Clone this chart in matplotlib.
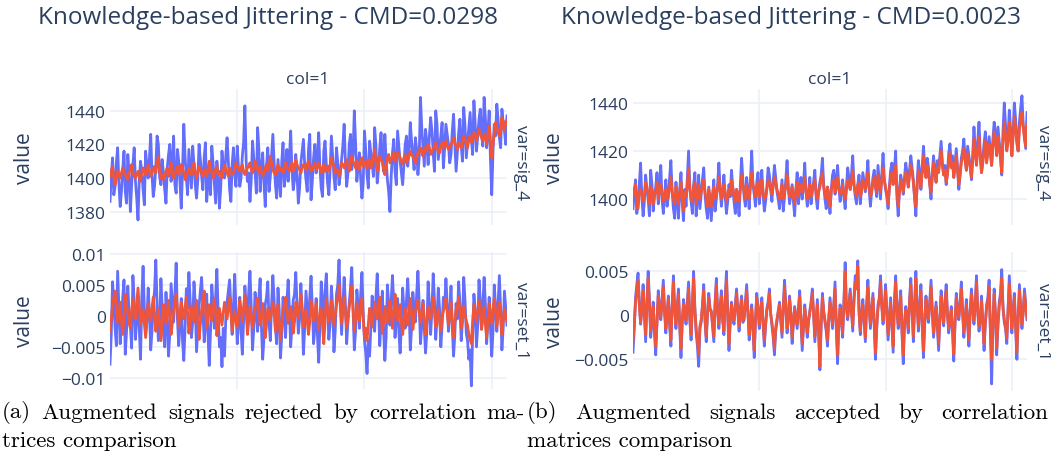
import numpy as np
import matplotlib
matplotlib.use("Agg")
import matplotlib.pyplot as plt

# one value per step of the x axis (0..312)

# left panel, var=sig_4 (rejected)
sig4_rej_aug = [
    1386, 1401, 1412, 1390, 1395, 1409, 1418, 1397, 1383, 1392, 1405, 1416, 1392, 1385, 1414, 1403, 1380, 1396, 1408, 1418, 1398,
    1388, 1375, 1399, 1410, 1404, 1393, 1384, 1416, 1407, 1400, 1412, 1426, 1402, 1389, 1395, 1407, 1425, 1420, 1401, 1396,
    1411, 1403, 1393, 1385, 1406, 1414, 1420, 1398, 1408, 1425, 1396, 1391, 1417, 1410, 1397, 1382, 1404, 1432, 1413, 1400,
    1390, 1417, 1405, 1394, 1419, 1408, 1396, 1388, 1399, 1420, 1411, 1401, 1393, 1412, 1421, 1386, 1397, 1405, 1390, 1419,
    1409, 1397, 1385, 1410, 1401, 1382, 1394, 1416, 1406, 1400, 1413, 1424, 1410, 1393, 1386, 1408, 1418, 1402, 1395, 1419,
    1406, 1395, 1400, 1413, 1421, 1443, 1410, 1398, 1403, 1386, 1399, 1422, 1412, 1404, 1391, 1430, 1417, 1392, 1405, 1415,
    1397, 1383, 1407, 1418, 1392, 1401, 1414, 1426, 1409, 1396, 1388, 1411, 1400, 1389, 1410, 1421, 1395, 1404, 1417, 1398,
    1412, 1428, 1405, 1393, 1399, 1414, 1402, 1385, 1394, 1409, 1416, 1423, 1408, 1399, 1392, 1417, 1426, 1387, 1398, 1412,
    1420, 1403, 1411, 1427, 1406, 1394, 1389, 1416, 1422, 1408, 1397, 1390, 1405, 1425, 1413, 1401, 1393, 1418, 1409, 1396,
    1402, 1411, 1419, 1432, 1410, 1395, 1403, 1420, 1426, 1405, 1414, 1440, 1421, 1398, 1407, 1415, 1400, 1388, 1397, 1428,
    1416, 1402, 1394, 1422, 1415, 1409, 1401, 1430, 1419, 1397, 1405, 1418, 1427, 1412, 1404, 1426, 1411, 1399, 1392, 1380,
    1401, 1415, 1423, 1404, 1396, 1428, 1419, 1410, 1403, 1396, 1408, 1420, 1425, 1407, 1415, 1433, 1422, 1414, 1405, 1424,
    1417, 1402, 1412, 1448, 1430, 1418, 1407, 1429, 1421, 1408, 1425, 1436, 1428, 1415, 1404, 1440, 1432, 1411, 1418, 1425,
    1433, 1406, 1418, 1432, 1426, 1420, 1409, 1414, 1428, 1438, 1420, 1404, 1416, 1427, 1435, 1419, 1410, 1442, 1431, 1412,
    1421, 1430, 1439, 1423, 1414, 1446, 1432, 1416, 1425, 1435, 1441, 1426, 1419, 1448, 1436, 1418, 1428, 1440, 1411, 1390,
    1416, 1432, 1425, 1444, 1435, 1424, 1418, 1441, 1433, 1428, 1420, 1437,
]
sig4_rej_orig = [
    1401, 1404, 1407, 1400, 1396, 1399, 1404, 1402, 1400, 1403, 1406, 1404, 1402, 1400, 1399, 1403, 1405, 1408, 1403, 1401, 1400,
    1402, 1404, 1401, 1398, 1403, 1406, 1404, 1402, 1405, 1408, 1404, 1401, 1403, 1405, 1407, 1403, 1409, 1413, 1404, 1400,
    1402, 1399, 1401, 1404, 1406, 1401, 1404, 1409, 1403, 1400, 1402, 1405, 1407, 1402, 1404, 1408, 1406, 1403, 1399, 1401,
    1403, 1406, 1404, 1402, 1405, 1409, 1404, 1400, 1403, 1407, 1405, 1403, 1401, 1405, 1403, 1401, 1406, 1410, 1406, 1403,
    1400, 1402, 1405, 1407, 1402, 1404, 1403, 1400, 1404, 1408, 1405, 1403, 1401, 1406, 1404, 1402, 1403, 1405, 1409, 1407,
    1405, 1404, 1406, 1408, 1404, 1402, 1404, 1406, 1407, 1409, 1405, 1403, 1406, 1410, 1408, 1405, 1403, 1407, 1404, 1401,
    1403, 1406, 1408, 1404, 1407, 1413, 1409, 1405, 1403, 1402, 1405, 1408, 1404, 1406, 1405, 1403, 1406, 1409, 1407, 1405,
    1404, 1407, 1409, 1404, 1406, 1411, 1408, 1406, 1405, 1403, 1406, 1408, 1407, 1405, 1408, 1410, 1406, 1404, 1405, 1407,
    1409, 1405, 1406, 1409, 1407, 1403, 1405, 1408, 1404, 1406, 1407, 1404, 1408, 1412, 1409, 1407, 1403, 1405, 1404, 1401,
    1405, 1409, 1408, 1406, 1408, 1411, 1407, 1404, 1409, 1413, 1410, 1408, 1406, 1410, 1408, 1405, 1409, 1412, 1407, 1409,
    1410, 1406, 1409, 1411, 1406, 1408, 1412, 1417, 1409, 1404, 1408, 1413, 1411, 1410, 1405, 1402, 1408, 1412, 1414, 1409,
    1411, 1413, 1415, 1410, 1412, 1415, 1414, 1412, 1410, 1408, 1412, 1414, 1409, 1411, 1413, 1416, 1414, 1413, 1411, 1409,
    1412, 1415, 1416, 1418, 1415, 1413, 1418, 1416, 1417, 1420, 1418, 1414, 1416, 1417, 1419, 1421, 1418, 1416, 1415, 1419,
    1421, 1418, 1420, 1422, 1419, 1417, 1419, 1420, 1422, 1424, 1421, 1419, 1417, 1421, 1420, 1418, 1422, 1425, 1423, 1420,
    1418, 1423, 1425, 1421, 1424, 1427, 1425, 1422, 1426, 1429, 1426, 1424, 1422, 1426, 1424, 1420, 1427, 1431, 1422, 1412,
    1420, 1427, 1433, 1430, 1427, 1425, 1431, 1436, 1430, 1428, 1434, 1432,
]

# left panel, var=set_1 (rejected), units of 1e-4
set1_rej_aug = [
    -78, -30, 55, 20, -20, -48, 72, 15, -45, -10, 30, 58, -62, -25, 48, 5, -15, -52, 65, 22, -38,
    -5, 25, -20, -70, 30, 80, 12, -30, -8, 45, 5, -55, -25, 20, 40, 90, 18, -40, -12, 60,
    15, -25, -50, 38, -10, -65, -28, 52, 20, -10, 35, 85, -5, -48, -15, 28, -40, -72, -20, 44,
    12, 70, 25, -35, -10, 55, 20, -58, -22, 15, 40, 62, 10, -42, -15, 35, -30, -80, -25, 50,
    18, -20, 30, 75, 5, -50, -35, -82, -20, -65, -5, 22, 40, 58, 12, -30, 15, 67, 10, -45,
    -10, 30, -25, -62, -5, 48, 20, -15, 38, 72, 15, -55, -20, 38, 5, -25, 30, 60, -18, -70,
    -35, 18, 30, 55, -10, -40, 20, 65, 25, -20, -45, 45, 10, -68, -30, 30, 5, -35, 22, 58,
    10, -50, -15, 25, 35, 70, 18, -28, -5, 52, 8, -62, -20, 40, 12, -18, 30, 64, 15, -45,
    -20, 28, -30, -75, -15, 55, 20, -10, 40, 68, 10, -38, -12, 48, 15, -58, -25, 35, 50, 90,
    25, -30, 15, 62, 20, -45, -10, 20, 45, 78, 10, -55, -25, 42, 18, -20, 35, 70, 5, -40,
    -60, -93, -40, -65, -20, 32, 5, -25, 30, 68, 15, -48, -10, 40, -20, -72, -35, 50, 20, -15,
    25, 65, 20, -35, -5, 28, -25, -60, -15, 45, 10, -20, 25, 60, 15, -55, -20, 38, 12, -10,
    35, 72, 20, -45, -15, 25, -20, -60, -25, 55, 18, -30, 10, 68, 25, -38, -5, 45, 10, -50,
    -15, 30, 15, 60, 20, -25, 5, 48, -20, -65, -30, 20, -5, 55, 20, -40, -10, 62, 25, -28,
    -40, -70, -55, -113, -30, 35, 10, -50, -15, 58, 25, -20, 15, 62, 20, -45, -10, 30, -20, -65,
    -25, 50, 15, -25, 20, 65, 10, -55, -20, 40, 12, -15,
]
set1_rej_orig = [
    -25, -5, 15, 30, 40, 12, -10, 5, 22, -8, -30, -5, 35, 18, 5, -12, -20, 8, 28, 10, -5,
    20, 45, 15, -15, -5, 10, -12, -35, -8, 20, 5, -8, 12, 30, 5, -25, -10, 12, -15, -40,
    -10, 18, 5, -12, 8, 25, -5, -30, -12, 8, 20, 35, 10, -18, 2, 22, 8, -5, 12, 30,
    5, -28, -8, 15, 2, -10, 10, 25, -10, -38, -15, 10, 22, 40, 12, -20, -5, 18, 5, -8,
    10, 28, 5, -32, -12, 12, -2, -15, 5, 22, 8, -5, 12, 30, 8, -25, -10, 8, -5, -18,
    2, 25, 10, -10, 12, 35, 8, -30, -10, 15, 0, -20, -5, 10, 18, 28, 5, -15, 2, 20,
    -10, -35, -15, 12, 2, -8, 8, 22, 5, -25, -8, 18, -12, -40, -15, 8, 18, 30, 10, -12,
    2, 15, -5, -28, -10, 22, 8, -5, 15, 35, 12, -18, -5, 10, -8, -30, -10, 25, 8, -8,
    5, 20, 2, -22, -5, 12, -15, -45, -10, 28, 10, -10, 8, 25, 5, -15, 2, 18, 30, 50,
    15, -12, 8, 30, 5, -20, -5, 15, 28, 48, 10, -25, -5, 20, 5, -8, 12, 28, -5, -35,
    -20, -40, -15, 12, -2, -18, 2, 22, 8, -5, 12, 30, 5, -28, -10, 15, 2, -10, 8, 25,
    5, -20, 8, 35, 12, -8, 5, 18, -10, -30, -8, 12, -2, -15, 8, 28, 5, -22, -5, 10,
    12, 25, 5, -12, 5, 20, -8, -30, -10, 15, 2, -5, 12, 30, 8, -18, -2, 12, -8, -25,
    -5, 8, 15, 28, 5, -15, 2, 22, -12, -35, -10, 10, 15, 30, 5, -20, -5, 15, 2, -8,
    -15, -30, -38, -45, -10, 18, 2, -10, 8, 25, 5, -22, -5, 15, -12, -35, -8, 20, 5, -12,
    10, 28, 8, -18, 2, 22, -5, -30, -8, 12, 2, -8,
]

# right panel, var=sig_4 (accepted)
sig4_acc_aug = [
    1396, 1403, 1408, 1394, 1398, 1406, 1415, 1401, 1393, 1399, 1410, 1404, 1400, 1393, 1412, 1406, 1395, 1401, 1405, 1411, 1398,
    1405, 1414, 1400, 1394, 1402, 1408, 1397, 1401, 1409, 1416, 1403, 1396, 1392, 1407, 1400, 1392, 1404, 1411, 1398, 1391,
    1404, 1397, 1409, 1420, 1405, 1399, 1394, 1406, 1411, 1393, 1400, 1410, 1396, 1402, 1408, 1413, 1402, 1396, 1392, 1405,
    1398, 1391, 1401, 1408, 1395, 1400, 1406, 1415, 1404, 1397, 1403, 1410, 1401, 1394, 1399, 1406, 1401, 1412, 1405, 1399,
    1394, 1404, 1400, 1393, 1406, 1417, 1408, 1401, 1397, 1409, 1403, 1396, 1408, 1420, 1406, 1402, 1397, 1407, 1411, 1398,
    1404, 1412, 1402, 1395, 1399, 1405, 1413, 1410, 1404, 1399, 1407, 1414, 1409, 1403, 1400, 1396, 1402, 1408, 1395, 1401,
    1408, 1416, 1405, 1398, 1402, 1406, 1399, 1393, 1404, 1411, 1398, 1404, 1409, 1400, 1406, 1415, 1403, 1397, 1402, 1409,
    1398, 1403, 1407, 1412, 1401, 1396, 1403, 1407, 1410, 1417, 1406, 1400, 1396, 1405, 1401, 1394, 1404, 1410, 1412, 1402,
    1407, 1414, 1405, 1399, 1403, 1408, 1401, 1396, 1405, 1413, 1409, 1404, 1410, 1418, 1406, 1401, 1398, 1406, 1410, 1398,
    1404, 1411, 1407, 1403, 1409, 1416, 1404, 1397, 1403, 1409, 1412, 1405, 1401, 1414, 1407, 1400, 1410, 1419, 1408, 1404,
    1401, 1396, 1405, 1412, 1415, 1407, 1412, 1420, 1401, 1393, 1404, 1410, 1407, 1402, 1409, 1415, 1411, 1405, 1412, 1418,
    1413, 1408, 1400, 1393, 1407, 1416, 1411, 1404, 1413, 1422, 1414, 1409, 1417, 1413, 1406, 1400, 1411, 1418, 1412, 1407,
    1416, 1412, 1418, 1424, 1415, 1410, 1414, 1406, 1411, 1419, 1423, 1414, 1418, 1409, 1415, 1421, 1413, 1404, 1410, 1417,
    1420, 1425, 1417, 1412, 1422, 1418, 1414, 1408, 1418, 1430, 1421, 1415, 1424, 1432, 1419, 1411, 1417, 1423, 1428, 1416,
    1421, 1426, 1420, 1414, 1425, 1432, 1427, 1419, 1430, 1424, 1418, 1410, 1428, 1440, 1431, 1421, 1426, 1437, 1429, 1418,
    1428, 1440, 1433, 1424, 1420, 1432, 1438, 1443, 1431, 1426, 1421, 1436,
]
sig4_acc_orig = [
    1401, 1404, 1406, 1397, 1396, 1403, 1404, 1402, 1399, 1401, 1407, 1405, 1402, 1398, 1405, 1404, 1398, 1402, 1403, 1407, 1400,
    1404, 1406, 1402, 1399, 1401, 1404, 1400, 1401, 1405, 1409, 1403, 1400, 1398, 1405, 1402, 1398, 1403, 1407, 1400, 1395,
    1403, 1401, 1406, 1413, 1404, 1400, 1399, 1405, 1407, 1398, 1402, 1406, 1400, 1403, 1405, 1408, 1403, 1400, 1397, 1404,
    1401, 1397, 1402, 1405, 1400, 1402, 1404, 1409, 1404, 1400, 1402, 1406, 1403, 1399, 1401, 1404, 1402, 1408, 1405, 1401,
    1399, 1404, 1402, 1399, 1404, 1410, 1406, 1403, 1400, 1406, 1403, 1400, 1405, 1411, 1406, 1404, 1401, 1405, 1407, 1401,
    1404, 1408, 1403, 1400, 1401, 1404, 1408, 1407, 1404, 1402, 1405, 1409, 1407, 1404, 1402, 1400, 1402, 1406, 1400, 1403,
    1405, 1410, 1404, 1401, 1403, 1405, 1401, 1398, 1404, 1407, 1401, 1404, 1406, 1403, 1405, 1409, 1403, 1400, 1402, 1406,
    1401, 1404, 1406, 1408, 1402, 1400, 1403, 1405, 1408, 1411, 1405, 1402, 1400, 1405, 1402, 1397, 1403, 1407, 1408, 1403,
    1405, 1409, 1404, 1402, 1403, 1406, 1402, 1400, 1404, 1408, 1406, 1404, 1407, 1412, 1406, 1403, 1401, 1406, 1407, 1401,
    1403, 1408, 1406, 1404, 1407, 1411, 1405, 1401, 1403, 1407, 1409, 1405, 1403, 1410, 1406, 1403, 1408, 1413, 1408, 1405,
    1402, 1398, 1404, 1409, 1411, 1406, 1409, 1414, 1403, 1397, 1403, 1408, 1406, 1403, 1407, 1411, 1409, 1405, 1410, 1414,
    1411, 1407, 1401, 1397, 1405, 1412, 1409, 1405, 1411, 1418, 1412, 1409, 1414, 1411, 1406, 1403, 1409, 1415, 1411, 1407,
    1413, 1411, 1416, 1420, 1414, 1410, 1412, 1407, 1410, 1416, 1419, 1413, 1415, 1409, 1413, 1418, 1412, 1406, 1410, 1415,
    1418, 1421, 1416, 1412, 1419, 1416, 1413, 1409, 1416, 1425, 1419, 1414, 1421, 1426, 1417, 1411, 1415, 1420, 1424, 1415,
    1419, 1423, 1419, 1414, 1422, 1428, 1424, 1418, 1426, 1422, 1417, 1411, 1424, 1432, 1427, 1420, 1424, 1432, 1426, 1418,
    1426, 1434, 1430, 1423, 1420, 1429, 1433, 1436, 1430, 1425, 1422, 1431,
]

# right panel, var=set_1 (accepted), units of 1e-4
set1_acc_aug = [
    -42, -15, 20, 35, 48, 15, -10, 8, 35, 2, -30, 12, 50, 18, -25, -8, 15, -20, -45, -10, 28,
    10, -5, 18, 40, 5, -20, 2, 22, -10, -35, 12, 45, 8, -15, 10, 30, -12, -48, -8, 18,
    5, -10, 15, 38, -5, -28, 12, 50, 8, -20, -35, -58, -15, -8, 12, 35, -5, -30, 2, 25,
    8, 5, -12, -30, 15, 42, 5, -15, 10, 28, -5, -22, 20, 50, 2, -40, -8, 15, -2, -10,
    12, 30, 5, -18, 8, 22, -8, -5, 15, 35, 5, -28, -10, 12, -15, -48, -5, 25, 8, -15,
    5, 20, -10, -35, -12, 8, 15, 30, 2, -12, -25, -45, -18, -8, 5, 15, -5, -25, 10, 40,
    12, -20, -5, 22, 2, -32, -10, 10, -2, -15, 8, 28, -8, -40, -15, 12, -5, -25, -8, 5,
    15, 30, 2, -30, -5, 18, -20, -62, -10, 25, 5, -8, -18, -35, -5, 20, 2, -15, 12, 38,
    -15, -55, -10, 12, -5, -25, 15, 60, 10, -5, 12, 30, 5, -18, 20, 45, 35, 62, 5, -22,
    2, 18, -5, -30, 12, 40, 10, -15, 5, 25, -10, -50, -15, 12, 20, 45, 12, -10, 8, 35,
    5, -28, -5, 20, -10, -42, 15, 45, 8, -15, 10, 28, -20, -55, -10, 10, -2, -20, 18, 42,
    8, -30, 12, 50, 12, -18, 10, 35, -12, -48, -10, 22, 2, -8, 15, 40, 5, -25, -5, 15,
    -12, -40, -5, 28, 5, -12, 15, 35, 2, -20, -8, 10, -18, -52, -10, 25, 8, -5, 15, 38,
    5, -25, -5, 18, -10, -35, 5, 30, 8, -10, 15, 45, 5, -18, -5, 22, -8, -40, -10, 12,
    20, 40, -20, -78, -10, 30, 2, -45, -12, 15, 25, 52, 10, -8, -15, -32, 5, 45, 12, -20,
    5, 25, -15, -50, -5, 35, 10, -15, 5, 30, 12, -5,
]
set1_acc_orig = [
    -30, -10, 15, 28, 40, 12, -8, 5, 28, 2, -22, 10, 42, 14, -18, -5, 10, -15, -35, -8, 22,
    8, -2, 14, 32, 4, -15, 2, 18, -8, -28, 10, 38, 6, -10, 8, 24, -10, -38, -6, 12,
    4, -6, 12, 30, -4, -22, 10, 42, 6, -15, -28, -45, -12, -5, 10, 28, -4, -24, 2, 20,
    6, 4, -10, -24, 12, 35, 4, -10, 8, 22, -4, -18, 16, 40, 2, -32, -6, 12, -2, -6,
    10, 25, 4, -12, 6, 18, -6, -2, 12, 28, 4, -22, -8, 8, -12, -40, -4, 20, 6, -10,
    4, 15, -8, -28, -10, 5, 12, 25, 2, -8, -20, -38, -14, -4, 4, 12, -4, -20, 8, 32,
    10, -15, -4, 18, 2, -25, -8, 8, -2, -10, 6, 22, -6, -32, -12, 8, -4, -20, -6, 3,
    12, 25, 2, -24, -4, 12, -16, -58, -8, 20, 4, -5, -14, -28, -4, 15, 2, -10, 10, 30,
    -12, -45, -8, 8, -4, -20, 12, 50, 8, -2, 10, 25, 4, -12, 16, 38, 30, 56, 4, -18,
    2, 12, -4, -25, 10, 32, 8, -10, 4, 20, -8, -42, -12, 8, 16, 38, 10, -6, 6, 28,
    4, -22, -4, 15, -8, -35, 12, 38, 6, -10, 8, 22, -16, -45, -8, 6, -2, -15, 14, 35,
    6, -24, 10, 42, 10, -12, 8, 28, -10, -40, -8, 18, 2, -4, 12, 32, 4, -20, -4, 10,
    -10, -32, -4, 22, 4, -8, 12, 28, 2, -15, -6, 6, -14, -44, -8, 20, 6, -2, 12, 30,
    4, -20, -4, 12, -8, -28, 4, 24, 6, -6, 12, 38, 4, -12, -4, 16, -6, -32, -8, 8,
    16, 32, -16, -50, -8, 24, 2, -38, -10, 10, 20, 42, 8, -5, -12, -26, 4, 36, 10, -15,
    4, 20, -12, -42, -4, 28, 8, -10, 4, 24, 10, -2,
]

titles = ["Knowledge-based Jittering - CMD=0.0298",
          "Knowledge-based Jittering - CMD=0.0023"]
captions = [["(a) Augmented signals rejected by correlation ma-", "trices comparison"],
            ["(b) Augmented signals accepted by correlation", "matrices comparison"]]

BLUE = "#636EFA"
RED = "#EF553B"
GRID = "#EBF0F8"
TXT = "#2a3f5f"
FONT = "Open Sans"
LW = 2.0

W, H = 1051, 464
fig = plt.figure(figsize=(W / 100, H / 100), dpi=100)


def box(x0, x1, y0, y1):
    return [x0 / W, 1 - y1 / H, (x1 - x0) / W, (y1 - y0) / H]


def style_ax(ax, yticks, ylabels, ylim):
    ax.set_xlim(0, 312)
    ax.set_ylim(*ylim)
    ax.set_xticks([100, 200, 300])
    ax.set_xticklabels([])
    ax.set_yticks(yticks)
    ax.set_yticklabels(ylabels, fontsize=12.5, color=TXT, family=FONT)
    ax.tick_params(length=0, pad=3)
    ax.grid(True, color=GRID, linewidth=1.1)
    ax.set_axisbelow(True)
    for s in ax.spines.values():
        s.set_visible(False)


def draw(ax, aug, orig, scale=1.0):
    ax.plot(np.arange(len(aug)), np.array(aug) * scale, color=BLUE, lw=LW)
    ax.plot(np.arange(len(orig)), np.array(orig) * scale, color=RED, lw=LW)


# left panel
ax1 = fig.add_axes(box(110, 507, 90, 226))
draw(ax1, sig4_rej_aug, sig4_rej_orig)
style_ax(ax1, [1380, 1400, 1420, 1440], ["1380", "1400", "1420", "1440"], (1372, 1453))

ax2 = fig.add_axes(box(110, 507, 253, 390))
draw(ax2, set1_rej_aug, set1_rej_orig, 1e-4)
style_ax(ax2, [-0.01, -0.005, 0, 0.005, 0.01],
         ["\u22120.01", "\u22120.005", "0", "0.005", "0.01"], (-0.0118, 0.0103))

# right panel
ax3 = fig.add_axes(box(633, 1027, 90, 226))
draw(ax3, sig4_acc_aug, sig4_acc_orig)
style_ax(ax3, [1400, 1420, 1440], ["1400", "1420", "1440"], (1389.2, 1445.8))

ax4 = fig.add_axes(box(633, 1027, 253, 392))
draw(ax4, set1_acc_aug, set1_acc_orig, 1e-4)
style_ax(ax4, [-0.005, 0, 0.005], ["\u22120.005", "0", "0.005"], (-0.0086, 0.0072))

# labels
for cx, title in zip([268, 791], titles):
    fig.text(cx / W, 1 - 18 / H, title, ha="center", va="center",
             fontsize=17.5, color=TXT, family=FONT)
for cx in [308, 830]:
    fig.text(cx / W, 1 - 80 / H, "col=1", ha="center", va="center",
             fontsize=12.5, color=TXT, family=FONT)
for lx, tops in [(25, (158, 321)), (555, (158, 322))]:
    for cy in tops:
        fig.text(lx / W, 1 - cy / H, "value", ha="center", va="center",
                 rotation=90, fontsize=15, color=TXT, family=FONT)
for fx, (y1, y2) in [(521, (163, 321)), (1043, (163, 322))]:
    fig.text(fx / W, 1 - y1 / H, "var=sig_4", ha="center", va="center",
             rotation=-90, fontsize=12.5, color=TXT, family=FONT)
    fig.text(fx / W, 1 - y2 / H, "var=set_1", ha="center", va="center",
             rotation=-90, fontsize=12.5, color=TXT, family=FONT)

# captions, first line justified across the column
CAP_FS = 16.6
renderer = fig.canvas.get_renderer()
for (x0, x1), lines in zip([(2, 525), (527, 1048)], captions):
    words = lines[0].split()
    widths = []
    for w in words:
        t = fig.text(0, 0, w, fontsize=CAP_FS, family="cmr10")
        widths.append(t.get_window_extent(renderer).width)
        t.remove()
    gap = (x1 - x0 - sum(widths)) / (len(words) - 1)
    pos = x0
    for w, ww in zip(words, widths):
        fig.text(pos / W, 1 - 413 / H, w, ha="left", va="center",
                 fontsize=CAP_FS, family="cmr10", color="black")
        pos += ww + gap
    fig.text(x0 / W, 1 - 441 / H, lines[1], ha="left", va="center",
             fontsize=CAP_FS, family="cmr10", color="black")

fig.savefig("out.png", dpi=100)
